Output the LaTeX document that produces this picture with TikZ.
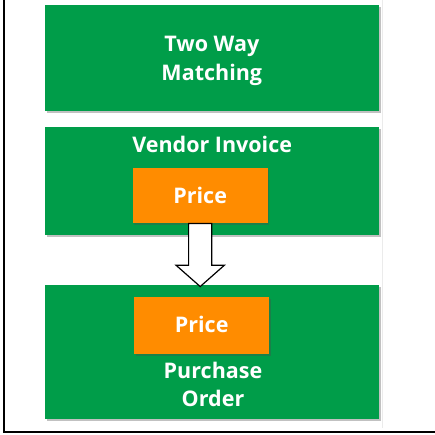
\documentclass[tikz,border=0pt]{standalone}
\usepackage{fontspec}
\setmainfont{Open Sans}
\usetikzlibrary{shadows,calc}
\definecolor{boxgreen}{RGB}{0,157,73}
\definecolor{boxorange}{RGB}{255,140,0}
\begin{document}
\begin{tikzpicture}[x=1pt,y=-1pt,
  shad/.style={drop shadow={shadow xshift=1.5pt,shadow yshift=-1.8pt,opacity=.35,fill=black!70}},
  greenbox/.style={fill=boxgreen,draw=none,minimum width=334pt,inner sep=0pt,shad},
  orangebox/.style={fill=boxorange,draw=none,minimum width=135pt,minimum height=56pt,inner sep=0pt,shad},
  boxtext/.style={text=white,font=\bfseries\fontsize{21.5}{28.5}\selectfont,align=center,inner sep=0pt,anchor=base},
  hollowarrow/.style={draw=black,line width=1.2pt,fill=white,line join=miter}
]
\useasboundingbox (0,0) rectangle (435,434);
% frame
\draw[black!8,line width=1pt] (382,0) -- (382,428);
\draw[black,line width=2pt] (4.3,0) -- (4.3,432) -- (435,432);

% boxes
\node[greenbox,minimum height=106pt] (b1) at (212,58) {};
\node[greenbox,minimum height=108.3pt] (b2) at (212,180.9) {};
\node[greenbox,minimum height=134.3pt] (b3) at (212,352.2) {};
\node[orangebox,minimum height=55.6pt] (p1) at (200.2,195.5) {};
\node[orangebox,minimum height=56.7pt] (p2) at (201.7,325.7) {};

% texts (base anchor = baseline of the last line)
\node[boxtext] (t1) at (211.8,80) {Two Way\\Matching};
\node[boxtext] (t2) at (212.2,152) {Vendor Invoice};
\node[boxtext] (t3) at (200.2,203) {Price};
\node[boxtext] (t4) at (201.7,332.5) {Price};
\node[boxtext] (t5) at (213,406.7) {Purchase\\Order};

% hollow arrow from p1 to b3
\draw[hollowarrow]
  ($(p1.south)+(-11.6,0)$) -- ($(p1.south)+(11.6,0)$)
  -- ($(p1.south)+(11.6,41.7)$) -- ($(p1.south)+(24.2,41.7)$)
  -- ($(b3.north -| p1.south)+(0,1.7)$)
  -- ($(p1.south)+(-24.2,41.7)$) -- ($(p1.south)+(-11.6,41.7)$) -- cycle;
\end{tikzpicture}
\end{document}
